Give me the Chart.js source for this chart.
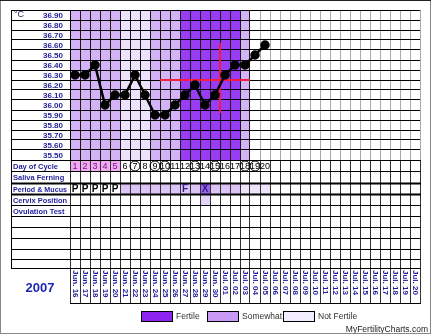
<!DOCTYPE html>
<html lang="en">
<head>
    <meta charset="UTF-8">
    <title>Fertility chart</title>
    <script src="https://cdn.jsdelivr.net/npm/chart.js@4.4.1/dist/chart.umd.min.js"></script>
    <style>
        body { margin: 0; background: #fff; }
        #wrap { width: 432px; height: 336px; }
    </style>
</head>
<body>
<div id="wrap">
    <canvas id="myChart" width="432" height="336"></canvas>
</div>

<script>
    // chart data
    var days = [1, 2, 3, 4, 5, 6, 7, 8, 9, 10, 11, 12, 13, 14, 15, 16, 17, 18, 19, 20,
        21, 22, 23, 24, 25, 26, 27, 28, 29, 30, 31, 32, 33, 34, 35];
    var temps = [36.30, 36.30, 36.40, 36.00, 36.10, 36.10, 36.30, 36.10, 35.90, 35.90,
        36.00, 36.10, 36.20, 36.00, 36.10, 36.30, 36.40, 36.40, 36.50, 36.60];
    var tempTicks = [36.90, 36.80, 36.70, 36.60, 36.50, 36.40, 36.30, 36.20, 36.10, 36.00,
        35.90, 35.80, 35.70, 35.60, 35.50];
    var dateLabels = ['Jun. 16', 'Jun. 17', 'Jun. 18', 'Jun. 19', 'Jun. 20', 'Jun. 21', 'Jun. 22',
        'Jun. 23', 'Jun. 24', 'Jun. 25', 'Jun. 26', 'Jun. 27', 'Jun. 28', 'Jun. 29', 'Jun. 30',
        'Jul. 01', 'Jul. 02', 'Jul. 03', 'Jul. 04', 'Jul. 05', 'Jul. 06', 'Jul. 07', 'Jul. 08',
        'Jul. 09', 'Jul. 10', 'Jul. 11', 'Jul. 12', 'Jul. 13', 'Jul. 14', 'Jul. 15', 'Jul. 16',
        'Jul. 17', 'Jul. 18', 'Jul. 19', 'Jul. 20'];
    // S = somewhat, N = not fertile, F = fertile, '' = blank
    var fertility = ['S', 'S', 'S', 'S', 'S', 'N', 'N', 'N', 'S', 'S', 'S', 'F', 'F', 'F', 'F', 'F', 'F', 'S'];
    var cycleDays = [1, 2, 3, 4, 5, 6, 7, 8, 9, 10, 11, 12, 13, 14, 15, 16, 17, 18, 19, 20];
    var periodDays = [1, 2, 3, 4, 5];
    var circledDays = [7, 9, 10, 13, 15, 18, 19];
    var mucusDays = [1, 2, 3, 4, 5, 12, 14];
    var mucusCodes = ['P', 'P', 'P', 'P', 'P', 'F', 'X'];
    var rowLabels = ['Day of Cycle', 'Saliva Ferning', 'Period & Mucus', 'Cervix Position', 'Ovulation Test'];
    var coverline = 36.25;
    var coverFrom = 9.5;
    var coverTo = 18.5;
    var ovulationDay = 15.5;
    var ovulationTop = 36.62;
    var ovulationBottom = 35.92;
    var legendLabels = ['Fertile', 'Somewhat', 'Not Fertile'];
    var year = '2007';

    var colors = { F: '#9b3cf5', S: '#d4b2f6', N: '#ede2fc' };
    var legendColors = ['#8e24f0', '#c99af5', '#f2ecff'];
    var navy = '#1e1e9c';
    var rowLines = [160, 171, 183, 194, 205, 216, 227, 238, 249, 259, 268];

    var tablePlugin = {
        id: 'table',
        beforeDraw: function (chart) {
            var c = chart.ctx, xs = chart.scales.x, ys = chart.scales.y;
            c.save();
            c.fillStyle = '#fff';
            c.fillRect(0, 0, chart.width, chart.height);
            var top = ys.getPixelForValue(36.95), bot = ys.getPixelForValue(35.45);
            // column shading for the temperature area
            fertility.forEach(function (f, i) {
                if (!f) return;
                var x0 = xs.getPixelForValue(days[i] - 0.5), x1 = xs.getPixelForValue(days[i] + 0.5);
                c.fillStyle = colors[f];
                c.fillRect(x0, top, x1 - x0, bot - top);
            });
            // lower table cells
            function cell(d, row, color) {
                var x0 = xs.getPixelForValue(d - 0.5), x1 = xs.getPixelForValue(d + 0.5);
                c.fillStyle = color;
                c.fillRect(x0, rowLines[row], x1 - x0, rowLines[row + 1] - rowLines[row]);
            }
            periodDays.forEach(function (d) { cell(d, 0, '#f2aaf0'); });
            for (var d = 6; d <= 17; d++) cell(d, 2, '#dcc4f6');
            for (d = 18; d <= 20; d++) cell(d, 2, '#ede3fb');
            cell(14, 2, '#9a62e6');
            cell(14, 3, '#e4d4f8');
            c.restore();
        },
        afterDraw: function (chart) {
            var c = chart.ctx, xs = chart.scales.x, ys = chart.scales.y;
            var left = 11, gx = chart.chartArea.left, right = chart.chartArea.right;
            c.save();
            // lower table lines
            c.strokeStyle = '#000';
            c.lineWidth = 1;
            rowLines.forEach(function (y, i) {
                c.lineWidth = (i === 2 || i === 3) ? 2 : 1;
                c.beginPath();
                c.moveTo(left, y + 0.5);
                c.lineTo(right + 1, y + 0.5);
                c.stroke();
            });
            c.lineWidth = 1;
            c.beginPath();
            c.moveTo(left + 0.5, 10);
            c.lineTo(left + 0.5, 268);
            c.moveTo(gx, 303.5);
            c.lineTo(right + 1, 303.5);
            c.stroke();

            // temperature labels
            c.fillStyle = navy;
            c.font = 'bold 8px "Liberation Sans", Arial, sans-serif';
            c.textAlign = 'right';
            c.textBaseline = 'middle';
            tempTicks.forEach(function (t) {
                c.fillText(t.toFixed(2), 63, ys.getPixelForValue(t) + 0.5);
            });
            c.textAlign = 'left';
            c.fillStyle = '#222266';
            c.font = '9px "Liberation Sans", Arial, sans-serif';
            c.fillText('\u00b0C', 14, 15);

            // row labels
            c.fillStyle = navy;
            c.font = 'bold 7.5px "Liberation Sans", Arial, sans-serif';
            rowLabels.forEach(function (l, i) {
                c.fillText(l, 13, (rowLines[i] + rowLines[i + 1]) / 2 + 1, 54);
            });

            // day of cycle numbers
            c.textAlign = 'center';
            c.font = '9px "Liberation Sans", Arial, sans-serif';
            var cy = (rowLines[0] + rowLines[1]) / 2 + 0.5;
            cycleDays.forEach(function (d) {
                var x = xs.getPixelForValue(d);
                c.fillStyle = periodDays.indexOf(d) >= 0 ? '#7a1490' : '#000';
                c.fillText(String(d), x, cy + 0.5, 11);
                if (circledDays.indexOf(d) >= 0) {
                    c.strokeStyle = '#000';
                    c.beginPath();
                    c.arc(x, cy, 5, 0, Math.PI * 2);
                    c.stroke();
                }
            });

            // period & mucus codes
            var my = (rowLines[2] + rowLines[3]) / 2 + 1;
            c.font = 'bold 10px "Liberation Sans", Arial, sans-serif';
            mucusDays.forEach(function (d, i) {
                c.fillStyle = mucusCodes[i] === 'P' ? '#000' : '#3a1a8a';
                c.fillText(mucusCodes[i], xs.getPixelForValue(d), my);
            });

            // dates, rotated
            c.fillStyle = navy;
            c.font = 'bold 8px "Liberation Sans", Arial, sans-serif';
            c.textAlign = 'left';
            dateLabels.forEach(function (l, i) {
                c.save();
                c.translate(xs.getPixelForValue(days[i]), 270);
                c.rotate(Math.PI / 2);
                c.fillText(l, 0, 0);
                c.restore();
            });

            // year
            c.textAlign = 'center';
            c.fillStyle = '#2028b0';
            c.font = 'bold 13px "Liberation Sans", Arial, sans-serif';
            c.fillText(year, 40, 288);

            // legend
            var boxX = [141, 207, 283];
            c.font = '8.5px "Liberation Sans", Arial, sans-serif';
            c.textAlign = 'left';
            legendLabels.forEach(function (l, i) {
                c.fillStyle = legendColors[i];
                c.fillRect(boxX[i] + 0.5, 311.5, 31, 10);
                c.strokeStyle = '#000';
                c.strokeRect(boxX[i] + 0.5, 311.5, 31, 10);
                c.fillStyle = '#333';
                c.fillText(l, boxX[i] + 35, 317);
            });

            // watermark
            c.textAlign = 'right';
            c.fillStyle = '#222';
            c.fillText('MyFertilityCharts.com', 428, 330);

            // frame
            c.strokeStyle = '#888';
            c.strokeRect(0.5, 0.5, 430, 333);
            c.strokeStyle = '#222';
            c.beginPath();
            c.moveTo(0, 0.5);
            c.lineTo(431, 0.5);
            c.stroke();
            c.restore();
        }
    };

    var red = '#f01e3c';
    var ctx = document.getElementById('myChart');
    var myChart = new Chart(ctx, {
        type: 'line',
        data: {
            datasets: [
                {
                    label: 'Temperature',
                    data: temps.map(function (t, i) { return { x: days[i], y: t }; }),
                    borderColor: '#000',
                    backgroundColor: '#000',
                    borderWidth: 2.5,
                    pointRadius: 3.5,
                    tension: 0,
                    order: 0
                },
                {
                    label: 'Coverline',
                    data: [{ x: coverFrom, y: coverline }, { x: coverTo, y: coverline }],
                    borderColor: red,
                    borderWidth: 2,
                    pointRadius: 0,
                    order: 1
                },
                {
                    label: 'Ovulation',
                    data: [{ x: ovulationDay, y: ovulationTop }, { x: ovulationDay, y: ovulationBottom }],
                    borderColor: red,
                    borderWidth: 2,
                    pointRadius: 0,
                    order: 1
                }
            ]
        },
        options: {
            responsive: false,
            maintainAspectRatio: false,
            animation: false,
            events: [],
            layout: { padding: { left: 11, right: 12, top: 10, bottom: 176 } },
            plugins: { legend: { display: false }, tooltip: { enabled: false } },
            scales: {
                x: {
                    type: 'linear',
                    min: 0.5,
                    max: 35.5,
                    afterBuildTicks: function (s) {
                        s.ticks = [{ value: 0.5 }].concat(days.map(function (d) { return { value: d + 0.5 }; }));
                    },
                    ticks: { display: false },
                    grid: {
                        color: function (c) { return c.tick && c.tick.value <= 18.5 ? '#1a1a1a' : '#a8a8a8'; },
                        lineWidth: 1,
                        drawTicks: true,
                        tickLength: 143,
                        tickColor: '#333'
                    },
                    border: { color: '#000' },
                    afterFit: function (s) { s.height = 0; }
                },
                y: {
                    min: 35.45,
                    max: 36.95,
                    afterBuildTicks: function (s) {
                        var t = [];
                        for (var i = 0; i <= 15; i++) t.push({ value: 35.45 + i * 0.1 });
                        s.ticks = t;
                    },
                    ticks: { display: false },
                    grid: { color: '#000', lineWidth: 1, drawTicks: true, tickLength: 59, tickColor: '#000' },
                    border: { color: '#000' },
                    afterFit: function (s) { s.width = 59; }
                }
            }
        },
        plugins: [tablePlugin]
    });
</script>
</body>
</html>
